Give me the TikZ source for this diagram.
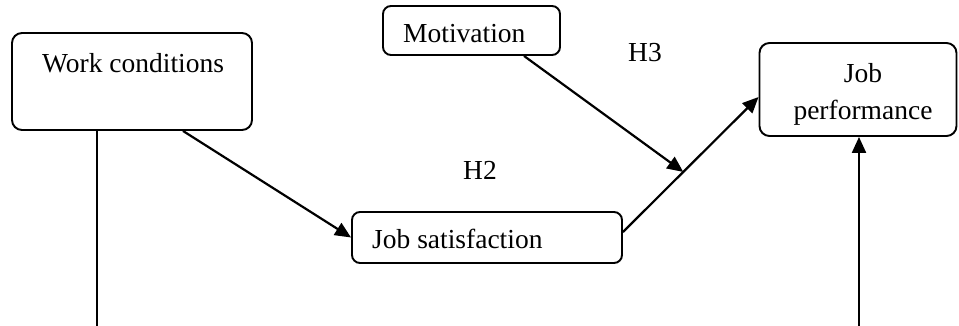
\documentclass[tikz,border=0pt]{standalone}
\usepackage{fontspec}
\setmainfont{Liberation Serif}
\usetikzlibrary{arrows.meta}
\begin{document}
\begin{tikzpicture}[x=1pt,y=-1pt,
  box/.style={draw,line width=1.9pt,rounded corners=10pt,inner sep=0pt},
  lbl/.style={font=\fontsize{27.5}{37}\selectfont,inner sep=0pt},
  conn/.style={line width=2.2pt},
  arr/.style={conn,-{Triangle[length=16pt,width=14pt]}}]
\useasboundingbox (0,0) rectangle (959,326);
% boxes
\node[box,minimum width=240pt,minimum height=97pt] (wc) at (132,81.5) {};
\node[lbl,anchor=base west] (wct) at (42,72.5) {Work conditions};
\node[box,rounded corners=8pt,minimum width=177pt,minimum height=49pt] (mot) at (471.5,30.5) {};
\node[lbl,anchor=base west] (mott) at (403,43) {Motivation};
\node[box,rounded corners=8pt,minimum width=270pt,minimum height=51pt] (js) at (487,237.5) {};
\node[lbl,anchor=base west] (jst) at (372,248) {Job satisfaction};
\node[box,minimum width=197pt,minimum height=93pt] (jp) at (858,89.5) {};
\node[lbl,align=center] (jpt) at (863,94) {Job\\performance};
% hypothesis labels
\node[lbl,anchor=base west] (h3) at (628,62) {H3};
\node[lbl,anchor=base west] (h2) at (463,180) {H2};
% free ends
\coordinate (b1) at (97,326);
\coordinate (b2) at (859,326);
% connectors
\draw[conn] ([xshift=-35pt]wc.south) -- (b1);
\draw[arr] ([xshift=51pt]wc.south) -- (js.west);
\draw[arr] ([yshift=5.5pt]js.east) -- coordinate[pos=0.445] (mid) ([yshift=-7.5pt]jp.west);
\draw[arr] ([xshift=52.5pt]mot.south) -- (mid);
\draw[arr] (b2) -- (b2 |- jp.south);
\end{tikzpicture}
\end{document}
